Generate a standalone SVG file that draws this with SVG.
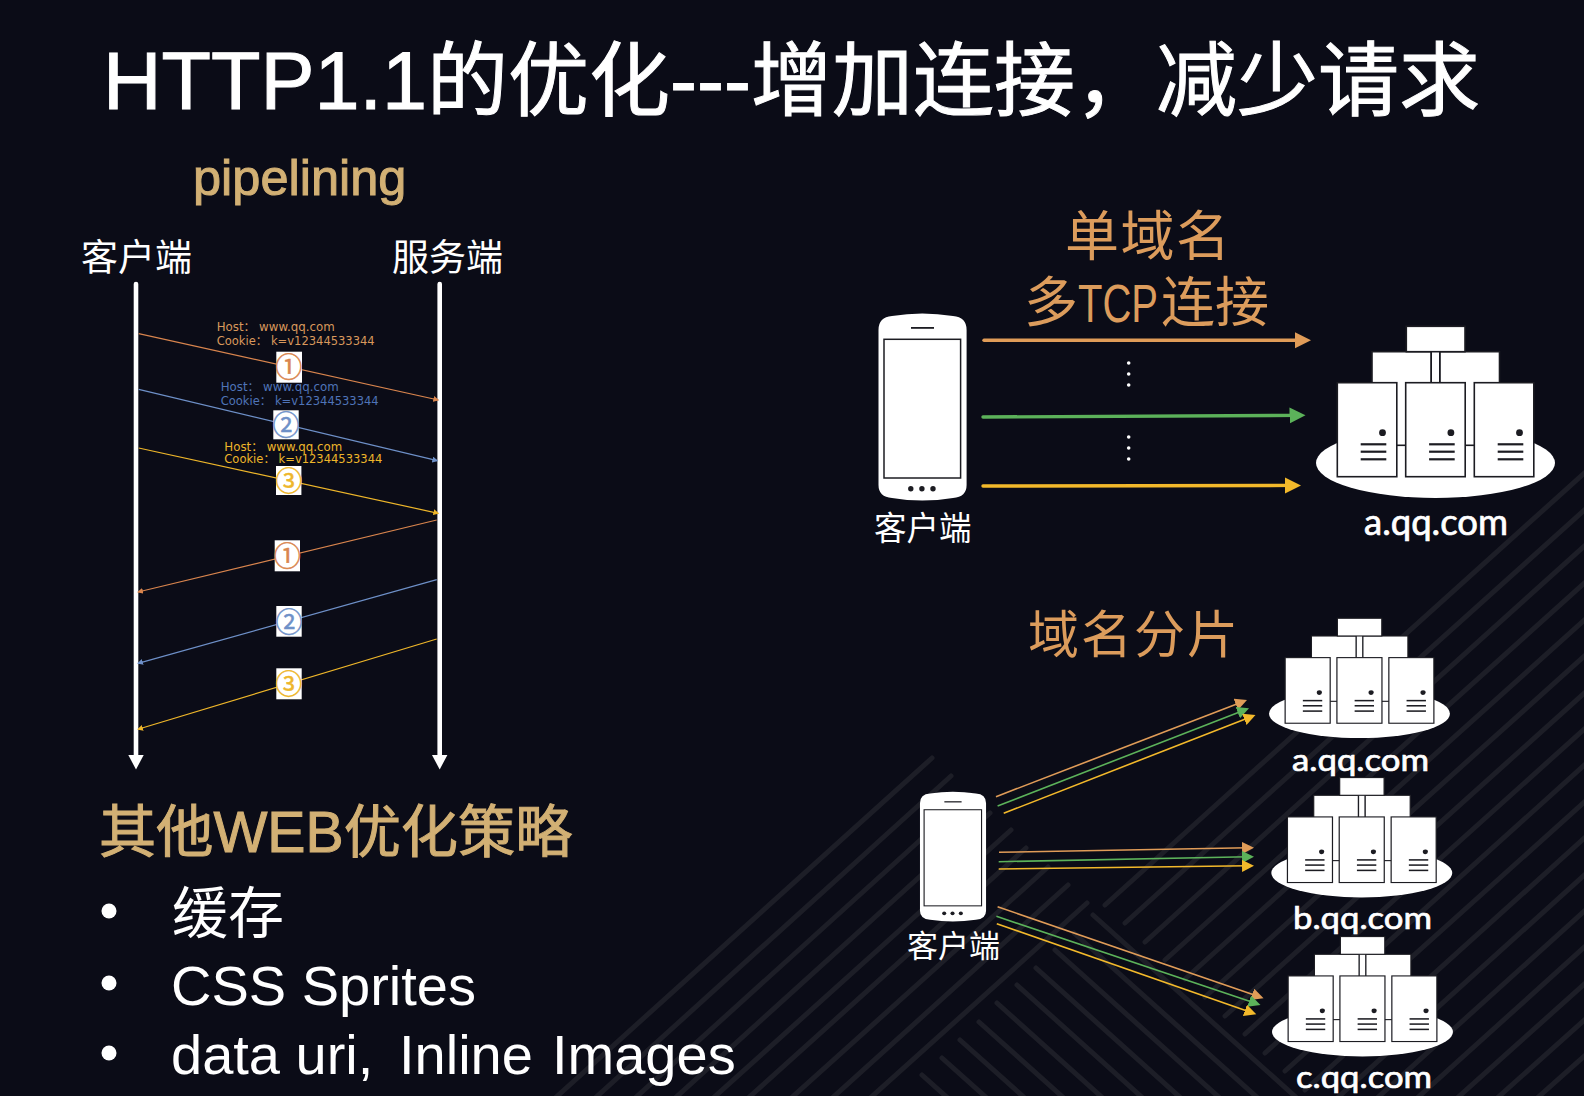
<svg xmlns="http://www.w3.org/2000/svg" xmlns:xlink="http://www.w3.org/1999/xlink" width="1584" height="1096" viewBox="0 0 1584 1096">
<style>
.t{font-family:"Liberation Sans","Noto Sans CJK SC",sans-serif}
.g{font-family:"Lato","Liberation Sans","Noto Sans CJK SC",sans-serif}
.w{fill:#fff}.gold{fill:#d2b074}.or{fill:#dc9c5c}
.hv{stroke-width:1;paint-order:stroke}
.hvw{stroke:#fff}.hvg{stroke:#d2b074}
.dom{stroke:#fff;stroke-width:.7}
.sv{fill:#fff;stroke:#1c1c22;stroke-width:1.6}
.st line{stroke:#1d1e27;stroke-width:5;stroke-linecap:round}
.big{fill:none;stroke-width:3.4;stroke-linecap:round}
.sm{fill:none;stroke-width:1.6}
.sq{fill:none;stroke-width:1.2}
.life{stroke:#fff;stroke-width:4.6;stroke-linecap:round}
.box{fill:#fff}
.h{font-size:11.5px;font-family:"DejaVu Sans","Noto Sans CJK SC",sans-serif}
.num{font-size:27px;text-anchor:middle;font-family:"Noto Sans CJK SC",sans-serif;stroke-width:.5}
.dot{fill:#fff}
</style>
<defs>
<marker id="mbo" markerUnits="userSpaceOnUse" markerWidth="18" markerHeight="18" refX="8" refY="8" orient="auto"><path d="M0 0L16 8L0 16Z" fill="#e09c58"/></marker>
<marker id="mbg" markerUnits="userSpaceOnUse" markerWidth="18" markerHeight="18" refX="8" refY="8" orient="auto"><path d="M0 0L16 8L0 16Z" fill="#5cb25a"/></marker>
<marker id="mby" markerUnits="userSpaceOnUse" markerWidth="18" markerHeight="18" refX="8" refY="8" orient="auto"><path d="M0 0L16 8L0 16Z" fill="#f3b92b"/></marker>
<marker id="mso" markerUnits="userSpaceOnUse" markerWidth="13" markerHeight="13" refX="6" refY="6" orient="auto"><path d="M0 0L12 6L0 12Z" fill="#e09c58"/></marker>
<marker id="msg" markerUnits="userSpaceOnUse" markerWidth="13" markerHeight="13" refX="6" refY="6" orient="auto"><path d="M0 0L12 6L0 12Z" fill="#5cb25a"/></marker>
<marker id="msy" markerUnits="userSpaceOnUse" markerWidth="13" markerHeight="13" refX="6" refY="6" orient="auto"><path d="M0 0L12 6L0 12Z" fill="#f3b92b"/></marker>
<marker id="mqo" markerUnits="userSpaceOnUse" markerWidth="7" markerHeight="7" refX="5" refY="3" orient="auto"><path d="M0 0L6 3L0 6Z" fill="#d9854e"/></marker>
<marker id="mqb" markerUnits="userSpaceOnUse" markerWidth="7" markerHeight="7" refX="5" refY="3" orient="auto"><path d="M0 0L6 3L0 6Z" fill="#6e90c8"/></marker>
<marker id="mqy" markerUnits="userSpaceOnUse" markerWidth="7" markerHeight="7" refX="5" refY="3" orient="auto"><path d="M0 0L6 3L0 6Z" fill="#eeb62a"/></marker>
<g id="phone">
<path class="w" d="M878.5 330Q878.5 317 892 316Q922 311 953 316Q966.6 317 966.6 330V485Q966.6 497 953 498Q922 503 892 498Q878.5 497 878.5 485Z"/>
<rect x="884" y="339.3" width="76.6" height="138.7" fill="#fff" stroke="#1c1c22" stroke-width="1.5"/>
<rect x="911" y="327" width="23" height="1.8" fill="#1c1c22"/>
<circle cx="910.8" cy="488.7" r="2.7" fill="#1c1c22"/><circle cx="921.9" cy="488.7" r="2.7" fill="#1c1c22"/><circle cx="933" cy="488.7" r="2.7" fill="#1c1c22"/>
</g>
<g id="srv">
<rect x="0" y="0" width="59.5" height="94" class="sv"/>
<circle cx="45.2" cy="50" r="3.4" fill="#1c1c22"/>
<rect x="23.4" y="60.5" width="25.6" height="2.2" fill="#1c1c22"/><rect x="23.4" y="67.9" width="25.6" height="2.2" fill="#1c1c22"/><rect x="23.4" y="75.5" width="25.6" height="2.2" fill="#1c1c22"/>
</g>
<g id="farm">
<ellipse cx="1435.5" cy="463" rx="119.5" ry="35" fill="#fff"/>
<rect x="1372" y="351.7" width="59" height="93.6" class="sv"/>
<rect x="1440" y="351.7" width="59.5" height="93.6" class="sv"/>
<rect x="1432" y="350" width="7" height="33" fill="#fff"/>
<rect x="1406.3" y="326.3" width="58.7" height="25.4" class="sv"/>
<use xlink:href="#srv" href="#srv" x="1337.3" y="382.7"/>
<use xlink:href="#srv" href="#srv" x="1405.7" y="382.7"/>
<use xlink:href="#srv" href="#srv" x="1474.3" y="382.7"/>
</g>
</defs>
<rect width="1584" height="1096" fill="#0b0c17"/>
<g id="stripes" class="st">
<line x1="932" y1="758" x2="553" y2="1100"/><line x1="951" y1="776" x2="593" y2="1100"/><line x1="970" y1="795" x2="633" y2="1100"/><line x1="990" y1="813" x2="673" y2="1100"/><line x1="1011" y1="830" x2="711" y2="1100"/><line x1="1026" y1="848" x2="746" y2="1100"/><line x1="1048" y1="867" x2="789" y2="1100"/><line x1="1068" y1="885" x2="830" y2="1100"/><line x1="1087" y1="903" x2="868" y2="1100"/>
<line x1="1093" y1="915" x2="1299" y2="1100"/><line x1="1074" y1="933" x2="1260" y2="1100"/><line x1="1055" y1="950" x2="1222" y2="1100"/><line x1="1036" y1="968" x2="1183" y2="1100"/><line x1="1017" y1="985" x2="1145" y2="1100"/><line x1="997" y1="1003" x2="1105" y2="1100"/><line x1="979" y1="1022" x2="1066" y2="1100"/><line x1="960" y1="1040" x2="1027" y2="1100"/><line x1="942" y1="1058" x2="989" y2="1100"/><line x1="922" y1="1075" x2="950" y2="1100"/>
<line x1="1105" y1="905" x2="1590" y2="468"/><line x1="1125" y1="923" x2="1590" y2="505"/><line x1="1145" y1="942" x2="1590" y2="541"/><line x1="1165" y1="960" x2="1590" y2="578"/><line x1="1185" y1="979" x2="1590" y2="615"/><line x1="1205" y1="997" x2="1590" y2="651"/><line x1="1225" y1="1016" x2="1590" y2="688"/><line x1="1245" y1="1034" x2="1590" y2="724"/><line x1="1265" y1="1053" x2="1590" y2="760"/><line x1="1285" y1="1071" x2="1590" y2="797"/><line x1="1305" y1="1090" x2="1590" y2="833"/><line x1="1335" y1="1100" x2="1590" y2="870"/><line x1="1375" y1="1100" x2="1590" y2="906"/><line x1="1415" y1="1100" x2="1590" y2="942"/><line x1="1455" y1="1100" x2="1590" y2="979"/><line x1="1495" y1="1100" x2="1590" y2="1015"/><line x1="1535" y1="1100" x2="1590" y2="1051"/>
</g>
<g id="connectors">
<line class="life" x1="136" y1="284" x2="136" y2="757"/><line class="life" x1="439.7" y1="284" x2="439.7" y2="757"/>
<path class="w" d="M128.3 755H143.7L136 769.5Z"/><path class="w" d="M432 755H447.4L439.7 769.5Z"/>
<line class="sq" stroke="#d9854e" marker-end="url(#mqo)" x1="138.7" y1="333.7" x2="438.3" y2="400"/>
<line class="sq" stroke="#6e90c8" marker-end="url(#mqb)" x1="138.7" y1="389.3" x2="437.3" y2="460.7"/>
<line class="sq" stroke="#eeb62a" marker-end="url(#mqy)" x1="138.7" y1="448" x2="438.3" y2="513.3"/>
<line class="sq" stroke="#d9854e" marker-end="url(#mqo)" x1="436.7" y1="520" x2="138" y2="592"/>
<line class="sq" stroke="#6e90c8" marker-end="url(#mqb)" x1="436.7" y1="579.7" x2="138" y2="663.3"/>
<line class="sq" stroke="#eeb62a" marker-end="url(#mqy)" x1="436.7" y1="639" x2="138" y2="729.3"/>
<line class="big" stroke="#e09c58" marker-end="url(#mbo)" x1="984" y1="340.3" x2="1303" y2="340.3"/>
<line class="big" stroke="#5cb25a" marker-end="url(#mbg)" x1="983" y1="417" x2="1297.5" y2="415.4"/>
<line class="big" stroke="#f3b92b" marker-end="url(#mby)" x1="983" y1="486" x2="1293" y2="485.4"/>
<line class="sm" stroke="#e09c58" marker-end="url(#mso)" x1="996" y1="796.7" x2="1241.4" y2="702.2"/>
<line class="sm" stroke="#5cb25a" marker-end="url(#msg)" x1="997.6" y1="806" x2="1243.4" y2="710.5"/>
<line class="sm" stroke="#f3b92b" marker-end="url(#msy)" x1="1003.7" y1="813.3" x2="1249.9" y2="717.2"/>
<line class="sm" stroke="#e09c58" marker-end="url(#mso)" x1="999" y1="852.3" x2="1248" y2="847.8"/>
<line class="sm" stroke="#5cb25a" marker-end="url(#msg)" x1="998.7" y1="861.7" x2="1248" y2="856.8"/>
<line class="sm" stroke="#f3b92b" marker-end="url(#msy)" x1="998.7" y1="869" x2="1248" y2="865.8"/>
<line class="sm" stroke="#e09c58" marker-end="url(#mso)" x1="997.6" y1="906.7" x2="1257.9" y2="996.3"/>
<line class="sm" stroke="#5cb25a" marker-end="url(#msg)" x1="996.4" y1="916.3" x2="1254.8" y2="1003"/>
<line class="sm" stroke="#f3b92b" marker-end="url(#msy)" x1="996.8" y1="923.7" x2="1250.6" y2="1012.3"/>
</g>
<g id="title"><text class="t w hv hvw" x="103" y="109" font-size="81">HTTP1.1的优化---增加连接，减少请求</text></g>
<g id="seq-labels">
<text class="t gold hv hvg" x="193" y="195" font-size="50.5">pipelining</text>
<text class="t w" x="81" y="271" font-size="37">客户端</text>
<text class="t w" x="392" y="271" font-size="37">服务端</text>
</g>
<g id="msg1"><text class="h" fill="#d9985c" x="216.7" y="331" textLength="118" lengthAdjust="spacingAndGlyphs">Host： www.qq.com</text><text class="h" fill="#d9985c" x="216.7" y="344.5" textLength="158" lengthAdjust="spacingAndGlyphs">Cookie： k=v12344533344</text><rect class="box" x="276.3" y="351.7" width="25.7" height="31"/><text class="num" fill="#d9854e" stroke="#d9854e" x="288.7" y="377">①</text></g>
<g id="msg2"><text class="h" fill="#4f74b8" x="220.7" y="391" textLength="118" lengthAdjust="spacingAndGlyphs">Host： www.qq.com</text><text class="h" fill="#4f74b8" x="220.7" y="404.7" textLength="158" lengthAdjust="spacingAndGlyphs">Cookie： k=v12344533344</text><rect class="box" x="273.3" y="410.3" width="25.4" height="29"/><text class="num" fill="#6e90c8" stroke="#6e90c8" x="286" y="434.5">②</text></g>
<g id="msg3"><text class="h" fill="#eeb62a" x="224.3" y="450.7" textLength="118" lengthAdjust="spacingAndGlyphs">Host： www.qq.com</text><text class="h" fill="#eeb62a" x="224.3" y="463.3" textLength="158" lengthAdjust="spacingAndGlyphs">Cookie： k=v12344533344</text><rect class="box" x="276" y="466" width="25.4" height="29"/><text class="num" fill="#eeb62a" stroke="#eeb62a" x="288.7" y="490.5">③</text></g>
<g id="resp1"><rect class="box" x="274.7" y="540.3" width="25.3" height="31"/><text class="num" fill="#d9854e" stroke="#d9854e" x="287.3" y="565.5">①</text></g>
<g id="resp2"><rect class="box" x="276.3" y="606" width="25.4" height="30.7"/><text class="num" fill="#6e90c8" stroke="#6e90c8" x="289" y="631.5">②</text></g>
<g id="resp3"><rect class="box" x="276.3" y="668.3" width="25.4" height="31"/><text class="num" fill="#eeb62a" stroke="#eeb62a" x="288.7" y="693.5">③</text></g>
<g id="single-domain-title">
<text class="t or" x="1065" y="256" font-size="54" letter-spacing="1.5">单域名</text>
<text class="t or" y="322" font-size="54"><tspan x="1024">多</tspan><tspan x="1078" textLength="80" lengthAdjust="spacingAndGlyphs">TCP</tspan><tspan x="1161">连接</tspan></text>
</g>
<g id="client-big"><use xlink:href="#phone" href="#phone"/><text class="t w" x="874" y="540" font-size="32.5">客户端</text></g>
<g id="dots"><circle class="dot" cx="1128.7" cy="363" r="1.8"/><circle class="dot" cx="1128.7" cy="374" r="1.8"/><circle class="dot" cx="1128.7" cy="385" r="1.8"/><circle class="dot" cx="1128.7" cy="437" r="1.8"/><circle class="dot" cx="1128.7" cy="448" r="1.8"/><circle class="dot" cx="1128.7" cy="459" r="1.8"/></g>
<g id="farm-single"><use xlink:href="#farm" href="#farm"/><text class="g w dom" x="1364" y="535" font-size="36" textLength="144" lengthAdjust="spacingAndGlyphs">a.qq.com</text></g>
<g id="sharding-title"><text class="t or" x="1028" y="653" font-size="51" letter-spacing="2">域名分片</text></g>
<g id="farm-a"><use xlink:href="#farm" href="#farm" transform="translate(272.8 390.5) scale(.757 .698)"/><text class="g w dom" x="1292" y="770.7" font-size="31" textLength="137" lengthAdjust="spacingAndGlyphs">a.qq.com</text></g>
<g id="farm-b"><use xlink:href="#farm" href="#farm" transform="translate(275.1 549.8) scale(.757 .698)"/><text class="g w dom" x="1293" y="929" font-size="31" textLength="139" lengthAdjust="spacingAndGlyphs">b.qq.com</text></g>
<g id="farm-c"><use xlink:href="#farm" href="#farm" transform="translate(275.8 708.8) scale(.757 .698)"/><text class="g w dom" x="1296" y="1088" font-size="31" textLength="136" lengthAdjust="spacingAndGlyphs">c.qq.com</text></g>
<g id="client-small"><use xlink:href="#phone" href="#phone" transform="translate(261.1 574.6) scale(.75 .693)"/><text class="t w" x="907" y="957" font-size="31">客户端</text></g>
<g id="other-web">
<text class="t gold hv hvg" x="99" y="852" font-size="57.2">其他WEB优化策略</text>
<circle class="w" cx="109" cy="911" r="7.5"/><text class="t w" x="172" y="933" font-size="56">缓存</text>
<circle class="w" cx="109" cy="983" r="7.5"/><text class="t w" x="171" y="1005" font-size="56">CSS Sprites</text>
<circle class="w" cx="109" cy="1053" r="7.5"/><text class="t w" y="1074" font-size="56"><tspan x="171">data uri, </tspan><tspan x="399">Inline </tspan><tspan x="552">Images</tspan></text>
</g>
</svg>
